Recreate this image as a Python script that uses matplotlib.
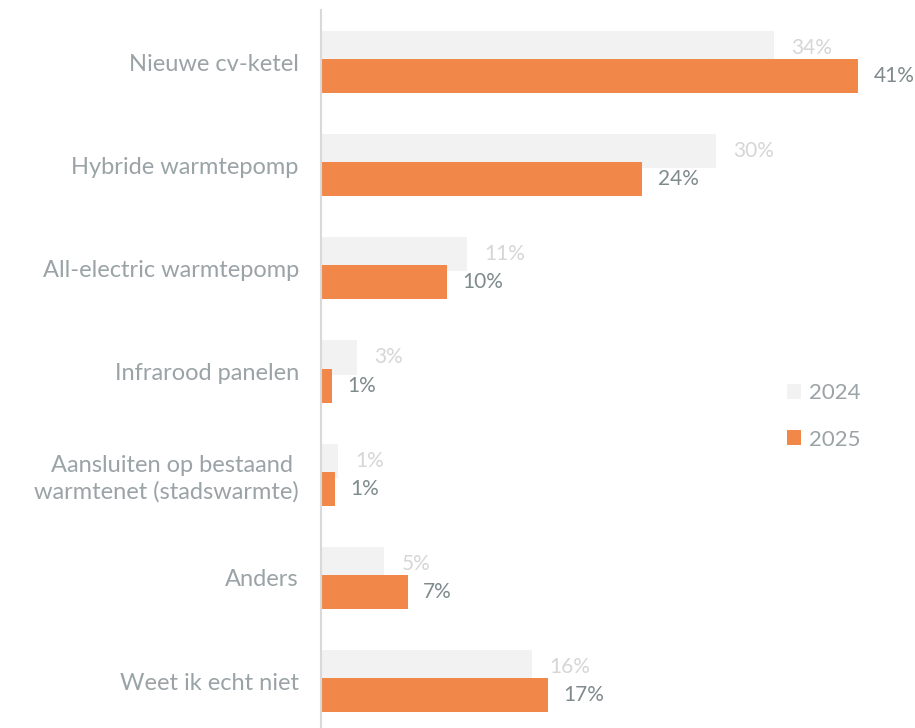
import matplotlib.pyplot as plt
import numpy as np

plt.rcParams['font.family'] = ['Lato', 'DejaVu Sans']

# data
categories = ['Nieuwe cv-ketel', 'Hybride warmtepomp', 'All-electric warmtepomp',
              'Infrarood panelen', 'Aansluiten op bestaand \nwarmtenet (stadswarmte)',
              'Anders', 'Weet ik echt niet']
vals_2024 = [34.4, 30.0, 11.1, 2.7, 1.3, 4.8, 16.0]
vals_2025 = [40.8, 24.4, 9.6, 0.8, 1.1, 6.6, 17.2]
series_names = ['2024', '2025']

grey = '#f2f2f2'
orange = '#f2874a'
label_col = '#9aa3a6'
light_txt = '#d6d6d6'
dark_txt = '#7f8a8d'

fig = plt.figure(figsize=(9.15, 7.28), dpi=100)
ax = fig.add_axes([321/915, 0, 1 - 321/915, 1 - 10/728])

y = np.arange(len(categories))
off = 0.136
h = 0.33
ax.barh(y - off, vals_2024, height=h, color=grey, label=series_names[0], zorder=1)
ax.barh(y + off, vals_2025, height=h, color=orange, label=series_names[1], zorder=2)

for yy, v in zip(y - off, vals_2024):
    ax.annotate(f'{v:.0f}%', (v, yy), xytext=(12.5, 0), textcoords='offset points',
                va='center', ha='left', fontsize=15, color=light_txt)
for yy, v in zip(y + off, vals_2025):
    ax.annotate(f'{v:.0f}%', (v, yy), xytext=(11, 0), textcoords='offset points',
                va='center', ha='left', fontsize=15, color=dark_txt)

ax.set_xlim(0, 45.1)
ax.set_ylim(6.455, -0.504)
ax.set_yticks(y)
ax.set_yticklabels(categories, fontsize=17, color=label_col, linespacing=1.25)
ax.tick_params(axis='y', length=0, pad=16)
ax.set_xticks([])
for s in ['top', 'right', 'bottom']:
    ax.spines[s].set_visible(False)
ax.spines['left'].set_color('#d9d9d9')
ax.spines['left'].set_linewidth(1.5)

leg = ax.legend(loc='center left', bbox_to_anchor=(0.75, 0.434), frameon=False,
                fontsize=16, handlelength=0.65, handleheight=0.65, handletextpad=0.35,
                labelspacing=1.2)
for t in leg.get_texts():
    t.set_color(label_col)

fig.savefig('out.png', dpi=100)
